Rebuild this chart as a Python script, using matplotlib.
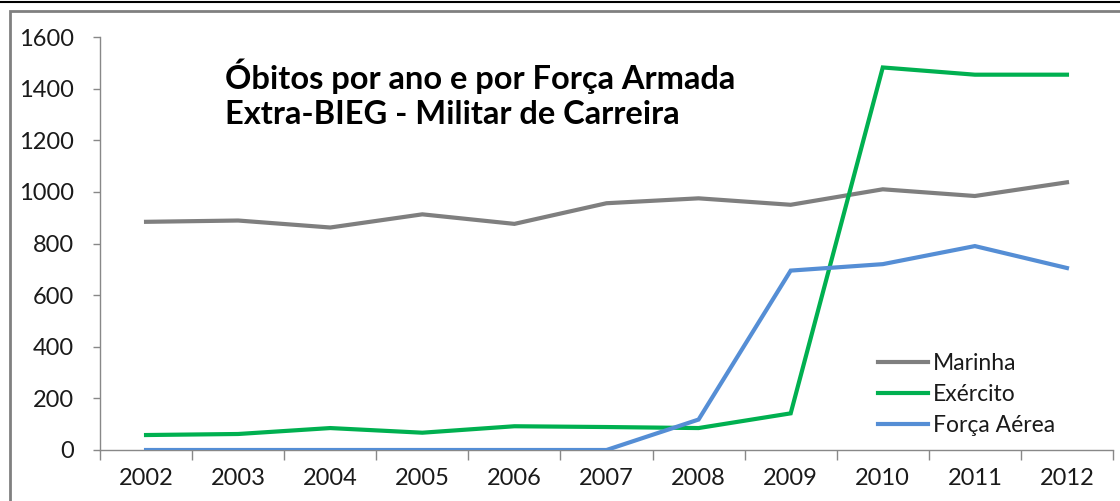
import matplotlib
matplotlib.use("Agg")
import matplotlib.pyplot as plt
from matplotlib.patches import Rectangle
from matplotlib.lines import Line2D
from matplotlib.ticker import FixedLocator, NullFormatter

years = ["2002", "2003", "2004", "2005", "2006", "2007", "2008", "2009", "2010", "2011", "2012"]
marinha = [884, 889, 862, 913, 876, 956, 975, 950, 1010, 984, 1037]
exercito = [58, 62, 85, 67, 92, 89, 85, 142, 1482, 1454, 1454]
forca_aerea = [0, 0, 0, 0, 0, 0, 118, 695, 720, 790, 705]
series_names = ["Marinha", "Exército", "Força Aérea"]
colors = ["#7F7F7F", "#00B050", "#558ED5"]
yticks = [0, 200, 400, 600, 800, 1000, 1200, 1400, 1600]
title_lines = ["Óbitos por ano e por Força Armada", "Extra-BIEG - Militar de Carreira"]

plt.rcParams['font.family'] = ['Lato', 'DejaVu Sans']

W, H = 1120, 501
fig = plt.figure(figsize=(W / 100, H / 100), dpi=100)
fig.patch.set_facecolor("white")

# outer frames
fig.add_artist(Line2D([0, 1], [1 - 1.5 / H, 1 - 1.5 / H], color="black", lw=1.5, transform=fig.transFigure))
fig.add_artist(Rectangle((10 / W, -0.1), 1.2, 1 - 11 / H + 0.1, transform=fig.transFigure,
                         fill=False, edgecolor="#808080", lw=2))

ax = fig.add_axes([100 / W, 1 - 450 / H, 1013 / W, (450 - 37) / H])
x = list(range(len(years)))
for vals, name, c in zip([marinha, exercito, forca_aerea], series_names, colors):
    ax.plot(x, vals, color=c, lw=3, label=name, solid_joinstyle="miter", zorder=3)

ax.set_xlim(-0.5, len(years) - 0.5)
ax.set_ylim(0, 1600)
ax.set_yticks(yticks)
ax.set_yticklabels([str(v) for v in yticks])
ax.set_xticks(x)
ax.set_xticklabels(years)
ax.xaxis.set_minor_locator(FixedLocator([i - 0.5 for i in range(len(years) + 1)]))
ax.xaxis.set_minor_formatter(NullFormatter())
ax.tick_params(axis="x", which="major", length=0, pad=13, labelsize=17, colors="#1a1a1a")
ax.tick_params(axis="x", which="minor", length=7, width=1, color="#888888")
ax.tick_params(axis="y", length=5, width=1, color="#888888", pad=14, labelsize=17, labelcolor="#1a1a1a")
for s in ["top", "right"]:
    ax.spines[s].set_visible(False)
for s in ["left", "bottom"]:
    ax.spines[s].set_color("#888888")
    ax.spines[s].set_linewidth(1)

ax.text(125 / 1013, 1 - (94 - 37) / 413, title_lines[0] + "\n" + title_lines[1], transform=ax.transAxes,
        fontsize=23.5, fontweight="bold", va="center", ha="left", linespacing=1.25, color="#000000")

leg = ax.legend(loc="lower left", bbox_to_anchor=((878 - 100) / 1013, 0.033), frameon=False, fontsize=16.5,
                handlelength=2.2, handletextpad=0.2, labelspacing=0.45, borderaxespad=0.0, borderpad=0.0)
for t in leg.get_texts():
    t.set_color("#1a1a1a")

fig.savefig("out.png", dpi=100, facecolor="white")
